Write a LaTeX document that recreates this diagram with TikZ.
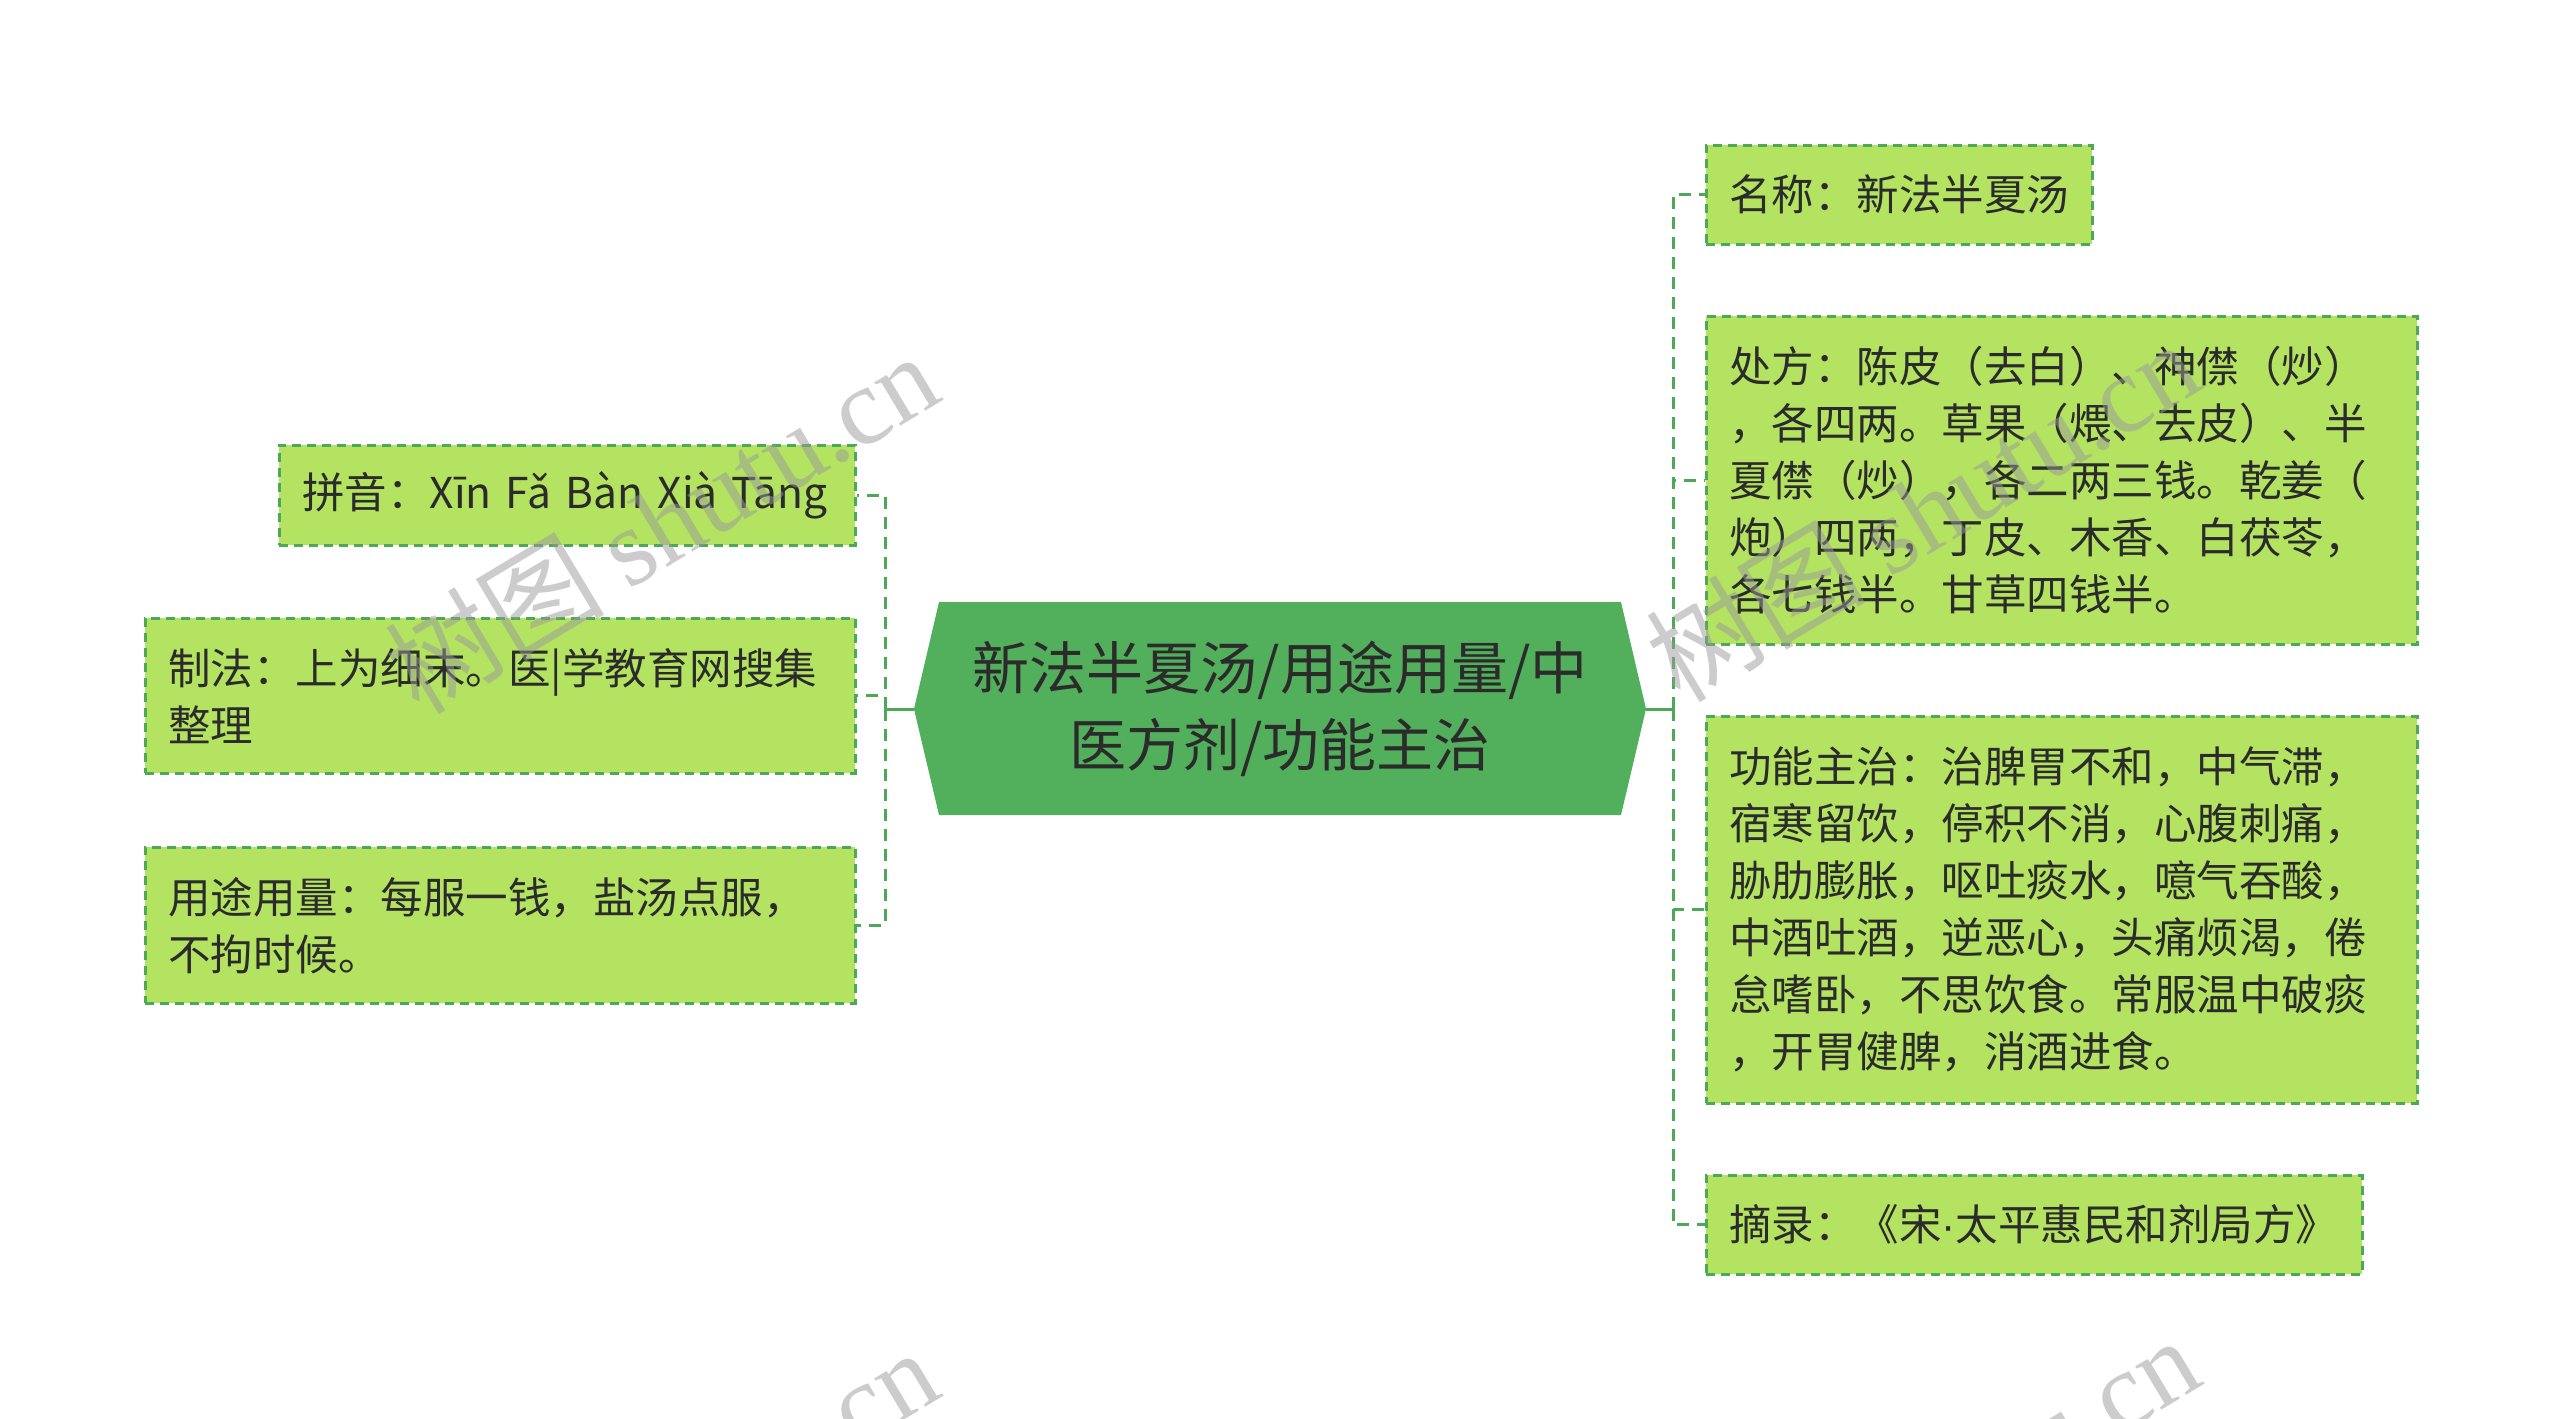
\documentclass[tikz,border=0pt]{standalone}
\usepackage{fontspec}
\setmainfont{Noto Sans CJK SC}
\newfontfamily\wmserif{Liberation Serif}
\newfontfamily\dotfont{Liberation Sans}
\definecolor{boxfill}{HTML}{B3E361}
\definecolor{boxline}{HTML}{4DA857}
\definecolor{hubfill}{HTML}{52AF5B}
\definecolor{txt}{HTML}{2B2B2B}
\definecolor{wm}{HTML}{9A9A9A}
\tikzset{
  leaf/.style={rectangle, draw=boxline, fill=boxfill, line width=2.5pt,
    dash pattern=on 9pt off 6pt, inner xsep=23pt, inner ysep=0pt,
    anchor=north west, align=left, text=txt,
    font=\fontsize{42.5pt}{57pt}\selectfont},
  conn/.style={draw=boxline, line width=3pt, dash pattern=on 12pt off 8pt},
  solidconn/.style={draw=boxline, line width=3pt},
  hubtext/.style={align=center, text=txt, font=\fontsize{57pt}{77pt}\selectfont},
  wmark/.style={text=wm, opacity=0.5, rotate=31, font=\fontsize{110pt}{110pt}\selectfont}
}
\begin{document}
\begin{tikzpicture}[x=1pt,y=1pt]
\useasboundingbox (0,0) rectangle (2560,-1419);
\fill[white] (0,0) rectangle (2560,-1419);

% hub
\fill[hubfill] (914,-709) -- (939,-602) -- (1621,-602) -- (1646,-709) -- (1621,-815) -- (939,-815) -- cycle;
\node[hubtext] (hub) at (1280,-709) {新法半夏汤/用途用量/中\\医方剂/功能主治};
\coordinate (hw) at (914,-709);
\coordinate (he) at (1646,-709);
\coordinate (lt) at (885,-709);
\coordinate (rt) at (1673,-709);

% left leaves
\node[leaf, minimum width=576pt, text width=530pt, minimum height=100pt] (l1) at (278,-444)
  {拼音：Xīn Fǎ Bàn Xià Tāng};
\node[leaf, minimum width=710pt, text width=664pt, minimum height=155pt] (l2) at (144,-617)
  {制法：上为细末。医|学教育网搜集\\整理};
\node[leaf, minimum width=710pt, text width=664pt, minimum height=156pt] (l3) at (144,-846)
  {用途用量：每服一钱，盐汤点服，\\不拘时候。};

% right leaves
\node[leaf, minimum width=386pt, text width=340pt, minimum height=99pt] (r1) at (1705,-144)
  {名称：新法半夏汤};
\node[leaf, minimum width=711pt, text width=665pt, minimum height=328pt] (r2) at (1705,-315)
  {处方：陈皮（去白）、神僸（炒）\\，各四两。草果（煨、去皮）、半\\夏僸（炒），各二两三钱。乾姜（\\炮）四两，丁皮、木香、白茯苓，\\各七钱半。甘草四钱半。};
\node[leaf, minimum width=711pt, text width=665pt, minimum height=387pt] (r3) at (1705,-715)
  {功能主治：治脾胃不和，中气滞，\\宿寒留饮，停积不消，心腹刺痛，\\胁肋膨胀，呕吐痰水，噫气吞酸，\\中酒吐酒，逆恶心，头痛烦渴，倦\\怠嗜卧，不思饮食。常服温中破痰\\，开胃健脾，消酒进食。};
\node[leaf, minimum width=656pt, text width=610pt, minimum height=99pt] (r4) at (1705,-1174)
  {摘录：《宋{\dotfont ·}太平惠民和剂局方》};

% connectors
\draw[solidconn] (hw) -- (lt);
\draw[solidconn] (he) -- (rt);
\draw[conn] (lt) |- (l1.east);
\draw[conn] (lt) |- (l2.east);
\draw[conn] (lt) |- (l3.east);
\draw[conn] (rt) |- (r1.west);
\draw[conn] (rt) |- (r2.west);
\draw[conn] (rt) |- (r3.west);
\draw[conn] (rt) |- (r4.west);

% watermarks
\begin{scope}
\clip (0,0) rectangle (2560,-1419);
\node[wmark] (w1) at (661,-522) {树图 {\wmserif shutu.cn}};
\node[wmark] (w2) at (1922,-510) {树图 {\wmserif shutu.cn}};
\node[wmark] (w3) at (661,-1518) {树图 {\wmserif shutu.cn}};
\node[wmark] (w4) at (1922,-1506) {树图 {\wmserif shutu.cn}};
\end{scope}
\end{tikzpicture}
\end{document}
